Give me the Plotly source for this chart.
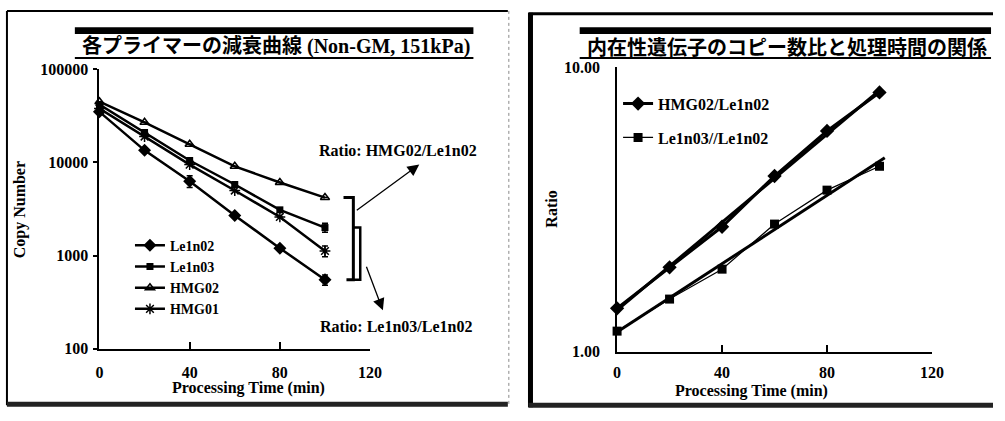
import numpy as np
import plotly.graph_objects as go

W, H = 1005, 421
SERIF = "Liberation Serif"
JP = "Liberation Serif, Noto Sans CJK JP"

# ---- left panel: copy number decay per primer ----
time_min = [0, 20, 40, 60, 80, 100]
le1n02 = [35000, 13500, 6300, 2700, 1200, 550]
le1n03 = [42000, 21000, 10500, 5800, 3100, 2000]
hmg02 = [45000, 27000, 15700, 9100, 6100, 4200]
hmg01 = [38000, 19000, 9500, 5000, 2600, 1120]
le1n02_err = [0, 0, 900, 0, 0, 70]
le1n03_err = [0, 0, 0, 0, 0, 220]
hmg02_err = [0, 0, 0, 0, 0, 0]
hmg01_err = [0, 0, 0, 0, 0, 150]
left_ticks = [100, 1000, 10000, 100000]
left_ticktext = ["100", "1000", "10000", "100000"]

# ---- right panel: copy number ratio vs processing time ----
ratio_hmg02 = [1.42, 1.98, 2.75, 4.15, 5.98, 8.17]
ratio_le1n03 = [1.18, 1.53, 1.95, 2.81, 3.70, 4.49]
right_ticks = [1, 10]
right_ticktext = ["1.00", "10.00"]
x_ticks = [0, 40, 80, 120]


def px(x):
    return x / W


def py(y):
    return 1 - y / H


# plot areas in pixels
L_X0, L_X1, L_Y0, L_Y1 = 97, 372, 64, 355
R_X0, R_X1, R_Y0, R_Y1 = 623, 943, 62, 358


def left_y_px(v):
    # log axis 100..100000 mapped onto the left plot area
    return L_Y1 - (np.log10(v) - 2) / 3 * (L_Y1 - L_Y0)


fig = go.Figure()

bold = dict(family=SERIF, size=16, color="black", weight="bold")
legend_font = dict(family=SERIF, size=14, color="black", weight="bold")

series = [
    ("Le1n02", le1n02, le1n02_err, dict(symbol="diamond", size=10, color="black")),
    ("Le1n03", le1n03, le1n03_err, dict(symbol="square", size=7, color="black")),
    ("HMG02", hmg02, hmg02_err, dict(symbol="triangle-up-open", size=8, color="black",
                                     line=dict(width=1.5, color="black"))),
    ("HMG01", hmg01, hmg01_err, dict(symbol="asterisk-open", size=9, color="black",
                                     line=dict(width=1.5, color="black"))),
]
for name, vals, err, mk in series:
    fig.add_trace(go.Scatter(
        x=time_min, y=vals, name=name, mode="lines+markers",
        line=dict(color="black", width=2.5), marker=mk,
        error_y=dict(type="data", array=err, visible=True, color="black",
                     thickness=1.5, width=3),
        xaxis="x", yaxis="y", legend="legend", cliponaxis=False,
    ))

# ratio series with exponential trend lines
t_arr = np.array(time_min, dtype=float)
ratio_series = [
    ("HMG02/Le1n02", ratio_hmg02, dict(symbol="diamond", size=11, color="black"),
     3, 100.0),
    ("Le1n03//Le1n02", ratio_le1n03, dict(symbol="square", size=9, color="black"),
     1.2, 102.0),
]
for name, vals, mk, lw, t_end in ratio_series:
    slope, icpt = np.polyfit(t_arr, np.log10(vals), 1)
    t_fit = np.array([0.0, t_end])
    fig.add_trace(go.Scatter(
        x=t_fit, y=10 ** (icpt + slope * t_fit), mode="lines",
        line=dict(color="black", width=3), showlegend=False,
        xaxis="x2", yaxis="y2", hoverinfo="skip",
    ))
    fig.add_trace(go.Scatter(
        x=time_min, y=vals, name=name, mode="lines+markers",
        line=dict(color="black", width=lw), marker=mk,
        xaxis="x2", yaxis="y2", legend="legend2",
        legendgroup=name, cliponaxis=False,
    ))

axis_common = dict(showgrid=False, zeroline=False, showline=True, linecolor="black",
                   linewidth=2, tickcolor="black", tickfont=bold)

fig.update_layout(
    width=W, height=H, margin=dict(l=0, r=0, t=0, b=0),
    paper_bgcolor="white", plot_bgcolor="white",
    xaxis=dict(domain=[px(L_X0), px(L_X1)], range=[0, 120], tickvals=x_ticks,
               ticks="inside", ticklen=7, tickwidth=2, anchor="y",
               ticklabelstandoff=8, **axis_common),
    yaxis=dict(domain=[py(L_Y1), py(L_Y0)], type="log", range=[2, 5],
               tickvals=left_ticks, ticktext=left_ticktext, ticks="outside",
               ticklen=4, tickwidth=2, anchor="x", ticklabelstandoff=2, **axis_common),
    xaxis2=dict(domain=[px(R_X0), px(R_X1)], range=[0, 120], tickvals=x_ticks,
                ticks="inside", ticklen=7, tickwidth=2, anchor="y2",
                ticklabelstandoff=5, **axis_common),
    yaxis2=dict(domain=[py(R_Y1), py(R_Y0)], type="log", range=[0, 1],
                tickvals=right_ticks, ticktext=right_ticktext, ticks="",
                anchor="x2", ticklabelstandoff=12, **axis_common),
    legend=dict(x=px(128), y=py(231), xanchor="left", yanchor="top",
                bgcolor="rgba(0,0,0,0)", font=legend_font, itemwidth=30,
                tracegroupgap=0),
    legend2=dict(x=px(624), y=py(82), xanchor="left", yanchor="top",
                 bgcolor="rgba(0,0,0,0)", font=bold, itemwidth=30,
                 traceorder="grouped", tracegroupgap=10),
    showlegend=True,
)

shapes = []
# panel frames
shapes.append(dict(type="line", xref="paper", yref="paper", x0=px(3), x1=px(512),
                   y0=py(3), y1=py(3), line=dict(color="black", width=2)))
shapes.append(dict(type="line", xref="paper", yref="paper", x0=px(3), x1=px(3),
                   y0=py(3), y1=py(414), line=dict(color="black", width=2)))
shapes.append(dict(type="line", xref="paper", yref="paper", x0=px(3), x1=px(512),
                   y0=py(413), y1=py(413), line=dict(color="#222", width=5)))
shapes.append(dict(type="line", xref="paper", yref="paper", x0=px(513), x1=px(513),
                   y0=py(3), y1=py(414), line=dict(color="#888", width=1, dash="dot")))
shapes.append(dict(type="line", xref="paper", yref="paper", x0=px(535), x1=px(535),
                   y0=py(5), y1=py(416), line=dict(color="black", width=5)))
shapes.append(dict(type="line", xref="paper", yref="paper", x0=px(533), x1=px(1005),
                   y0=py(6), y1=py(6), line=dict(color="black", width=3)))
shapes.append(dict(type="line", xref="paper", yref="paper", x0=px(533), x1=px(1005),
                   y0=py(414), y1=py(414), line=dict(color="#222", width=5)))
# title bars
for x0, x1 in [(72, 477), (585, 1003)]:
    shapes.append(dict(type="rect", xref="paper", yref="paper", x0=px(x0), x1=px(x1),
                       y0=py(27), y1=py(20), fillcolor="black", line=dict(width=0)))
    shapes.append(dict(type="line", xref="paper", yref="paper", x0=px(x0), x1=px(x1),
                       y0=py(52), y1=py(52), line=dict(color="black", width=2)))

# ratio brackets beside the last time point of the left panel
top1 = left_y_px(hmg02[-1])
top2 = left_y_px(le1n03[-1])
bot = left_y_px(le1n02[-1])
bx1, bx2 = 355, 362
shapes.append(dict(type="path", xref="paper", yref="paper",
                   path=f"M {px(bx1-10)},{py(top1)} L {px(bx1)},{py(top1)} "
                        f"L {px(bx1)},{py(bot)} L {px(bx1-7)},{py(bot)}",
                   line=dict(color="black", width=3)))
shapes.append(dict(type="path", xref="paper", yref="paper",
                   path=f"M {px(bx1)},{py(top2)} L {px(bx2)},{py(top2)} "
                        f"L {px(bx2)},{py(bot)} L {px(bx1)},{py(bot)}",
                   line=dict(color="black", width=2.5)))
fig.update_layout(shapes=shapes)

annotations = [
    dict(text="各プライマーの減衰曲線 (Non-GM, 151kPa)", x=px(276), y=py(40),
         font=dict(family=JP, size=20, color="black", weight="bold")),
    dict(text="内在性遺伝子のコピー数比と処理時間の関係", x=px(796), y=py(40),
         font=dict(family="Noto Sans CJK JP", size=20, color="black", weight="bold")),
    dict(text="Processing Time (min)", x=px(248), y=py(396), font=bold),
    dict(text="Processing Time (min)", x=px(760), y=py(399), font=bold),
    dict(text="Copy Number", x=px(16), y=py(210), textangle=-90, font=bold),
    dict(text="Ratio", x=px(556), y=py(210), textangle=-90, font=bold),
    dict(text="Ratio: HMG02/Le1n02", x=px(400), y=py(149), font=bold),
    dict(text="Ratio: Le1n03/Le1n02", x=px(398), y=py(332), font=bold),
]
for a in annotations:
    a.update(xref="paper", yref="paper", showarrow=False, xanchor="center",
             yanchor="middle")

arrow_style = dict(xref="paper", yref="paper", axref="pixel", ayref="pixel",
                   showarrow=True, arrowhead=2, arrowsize=1.8, arrowwidth=1.3,
                   arrowcolor="black", text="")
annotations.append(dict(x=px(422), y=py(163), ax=-64, ay=47, **arrow_style))
annotations.append(dict(x=px(385), y=py(315), ax=-17, ay=-45, **arrow_style))
fig.update_layout(annotations=annotations)

fig.write_html("out.html")
